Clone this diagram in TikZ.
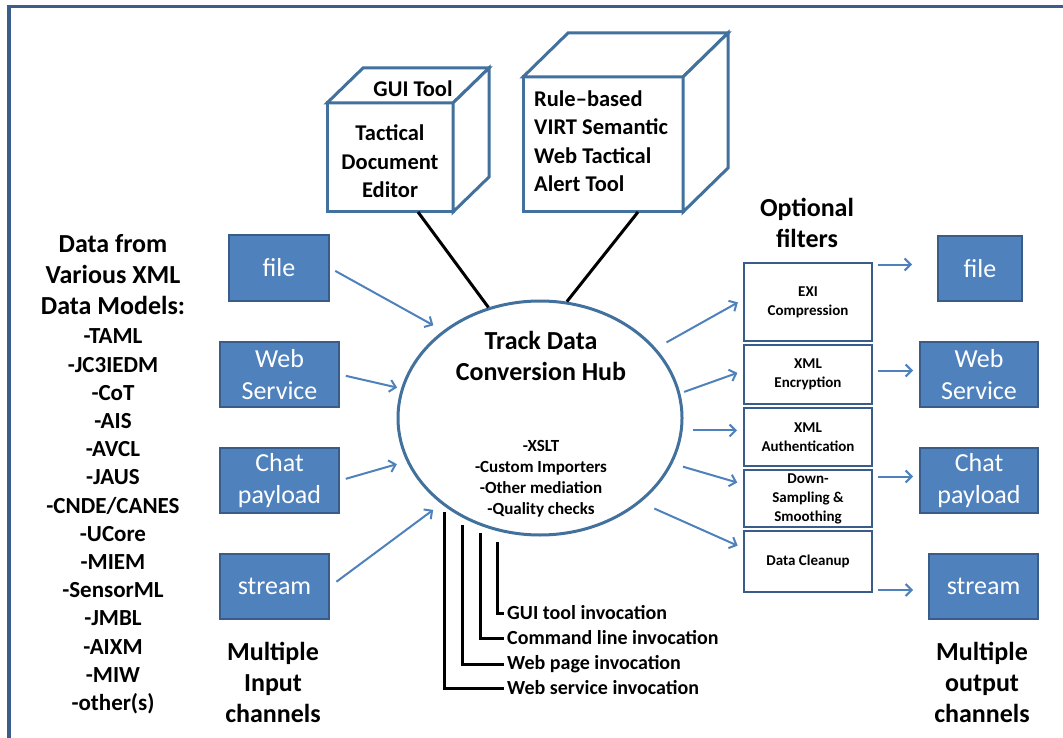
\documentclass[tikz,border=0pt]{standalone}
\usepackage{fontspec}
\setmainfont{Carlito}
\usetikzlibrary{arrows.meta,shapes.geometric,calc}
\definecolor{boxfill}{HTML}{4F81BD}
\definecolor{boxline}{HTML}{385D8A}
\definecolor{arrowblue}{HTML}{4F81BD}
\definecolor{hubline}{HTML}{41719C}
\definecolor{frameline}{HTML}{3B5D8A}
\begin{document}
\begin{tikzpicture}[x=1pt,y=-1pt,
  chan/.style={draw=boxline, line width=2pt, fill=boxfill, text=white, align=center,
    inner sep=0pt, font=\fontsize{26}{32}\selectfont, minimum height=65pt},
  arr/.style={draw=arrowblue, line width=2pt, -{Straight Barb[length=6pt,width=12pt]}},
  blk/.style={draw=black, line width=3pt},
  lbl/.style={font=\bfseries\fontsize{26}{31}\selectfont, align=center, inner sep=0pt},
  cubeface/.style={draw=hubline, line width=3pt, fill=white, line join=miter, outer sep=0pt},
  cell/.style={draw=boxline, line width=2.5pt, minimum width=128pt, inner sep=0pt, outer sep=0pt,
    align=center, font=\bfseries\fontsize{15}{19}\selectfont},
  inv/.style={font=\bfseries\fontsize{20}{25}\selectfont, anchor=west, inner sep=3pt}
]
\useasboundingbox (0,0) rectangle (1063,738);
\fill[white] (0,0) rectangle (1063,738);
% frame
\draw[frameline, line width=3.5pt] (9,745) -- (9,6.5) -- (1070,6.5);

% left text
\node[lbl] (modelshead) at (113,274.5) {Data from\\Various XML\\Data Models:};
\node[lbl, font=\bfseries\fontsize{23}{28.2}\selectfont] (models) at (113,521.5)
  {-TAML\\-JC3IEDM\\-CoT\\-AIS\\-AVCL\\-JAUS\\-CNDE/CANES\\-UCore\\-MIEM\\-SensorML\\-JMBL\\-AIXM\\-MIW\\-other(s)};
\node[lbl] (inlabel) at (273,682) {Multiple\\Input\\channels};
\node[lbl] (outlabel) at (982,682) {Multiple\\output\\channels};
\node[lbl] (filtlabel) at (807,223) {Optional\\filters};

% input channels
\node[chan, minimum width=100pt] (infile) at (279,268) {file};
\node[chan, minimum width=119pt] (inweb) at (279.5,374.5) {Web\\Service};
\node[chan, minimum width=119pt] (inchat) at (279.5,480.5) {Chat\\payload};
\node[chan, minimum width=109pt] (instream) at (274.5,586.5) {stream};

% output channels
\node[chan, minimum width=84pt] (outfile) at (980,268.5) {file};
\node[chan, minimum width=118pt] (outweb) at (979,374.5) {Web\\Service};
\node[chan, minimum width=118pt] (outchat) at (979,480.5) {Chat\\payload};
\node[chan, minimum width=109pt] (outstream) at (983.5,586) {stream};

% hub
\node[ellipse, draw=hubline, line width=3pt, minimum width=284pt, minimum height=234pt, inner sep=0pt] (hub) at (540,418) {};
\node[lbl] (hubtitle) at (541,356) {Track Data\\Conversion Hub};
\node[lbl, font=\bfseries\fontsize{17}{21}\selectfont] (hubitems) at (541,479)
  {-XSLT\\-Custom Importers\\-Other mediation\\-Quality checks};

% cube 1
\node[cubeface, minimum width=126pt, minimum height=109pt, inner sep=0pt] (gui) at (390,157.5) {};
\draw[cubeface] (gui.north west) -- ++(36,-35) -- ++(126,0) -- (gui.north east) -- cycle;
\draw[cubeface] (gui.north east) -- ++(36,-35) -- ++(0,109) -- (gui.south east) -- cycle;
\node[lbl, font=\bfseries\fontsize{22.5}{28.5}\selectfont] (guitxt) at (390,161.5) {Tactical\\Document\\Editor};
\node[lbl, font=\bfseries\fontsize{22.5}{28.5}\selectfont] (guitop) at (413,89) {GUI Tool};

% cube 2
\node[cubeface, minimum width=160pt, minimum height=135pt, inner sep=0pt] (virt) at (603,144.5) {};
\draw[cubeface] (virt.north west) -- ++(45,-44) -- ++(160,0) -- (virt.north east) -- cycle;
\draw[cubeface] (virt.north east) -- ++(45,-44) -- ++(0,135) -- (virt.south east) -- cycle;
\node[lbl, font=\bfseries\fontsize{22.5}{28.5}\selectfont, align=left, anchor=west] (virttxt) at (534,141)
  {Rule--based\\VIRT Semantic\\Web Tactical\\Alert Tool};

% cube connectors
\draw[blk] ([xshift=28pt]gui.south) -- (hub.115);
\draw[blk] ([xshift=35pt]virt.south) -- (hub.77);

% filters
\node[cell, minimum height=78pt] (cell1) at (808,302) {EXI\\Compression};
\node[cell, minimum height=59pt] (cell2) at (808,374.5) {XML\\Encryption};
\node[cell, minimum height=58pt] (cell3) at (808,437) {XML\\Authentication};
\node[cell, minimum height=57pt] (cell4) at (808,498.5) {Down-\\Sampling \&\\Smoothing};
\node[cell, minimum height=61pt] (cell5) at (808,561.5) {Data Cleanup};

% input arrows
\draw[arr, shorten <=6pt, shorten >=11pt] (infile.east) -- (hub.138);
\draw[arr, shorten <=6pt, shorten >=4pt] (inweb.east) -- (hub.168);
\draw[arr, shorten <=6pt, shorten >=10pt] (inchat.east) -- (hub.198);
\draw[arr, shorten <=8pt, shorten >=10pt] (instream.east) -- (hub.221);

% hub to filters
\draw[arr, shorten <=12pt, shorten >=7pt] (hub.31) -- ([yshift=3pt]cell1.west);
\draw[arr, shorten <=4pt, shorten >=7pt] (hub.10) -- ([yshift=4pt]cell2.west);
\draw[arr, shorten <=10pt, shorten >=7pt] (hub.-5) -- (hub.-5 -| cell3.west);
\draw[arr, shorten <=11pt, shorten >=7pt] (hub.-19) -- ([yshift=14pt]cell4.west);
\draw[arr, shorten <=15pt, shorten >=7pt] (hub.-40) -- ([yshift=13pt]cell5.west);

% filters to outputs
\draw[arr, shorten <=6pt, shorten >=25pt] ($(cell1.east |- outfile.west)+(0,-4)$) -- ($(outfile.west)+(0,-4)$);
\draw[arr, shorten <=6pt, shorten >=6pt] ($(cell2.east |- outweb.west)+(0,-4)$) -- ($(outweb.west)+(0,-4)$);
\draw[arr, shorten <=6pt, shorten >=6pt] ($(cell4.east |- outchat.west)+(0,-4)$) -- ($(outchat.west)+(0,-4)$);
\draw[arr, shorten <=6pt, shorten >=15pt] ($(cell5.east |- outstream.west)+(0,4)$) -- ($(outstream.west)+(0,4)$);

% invocations
\node[inv] (inv1) at (504,613) {GUI tool invocation};
\node[inv] (inv2) at (504,638) {Command line invocation};
\node[inv] (inv3) at (504,664) {Web page invocation};
\node[inv] (inv4) at (504,688) {Web service invocation};
\coordinate (s1) at (497,542);
\coordinate (s2) at (480,533);
\coordinate (s3) at (462,525);
\coordinate (s4) at (444,512);
\draw[blk] (s1) |- (inv1.west);
\draw[blk] (s2) |- (inv2.west);
\draw[blk] (s3) |- (inv3.west);
\draw[blk] (s4) |- (inv4.west);
\end{tikzpicture}
\end{document}
